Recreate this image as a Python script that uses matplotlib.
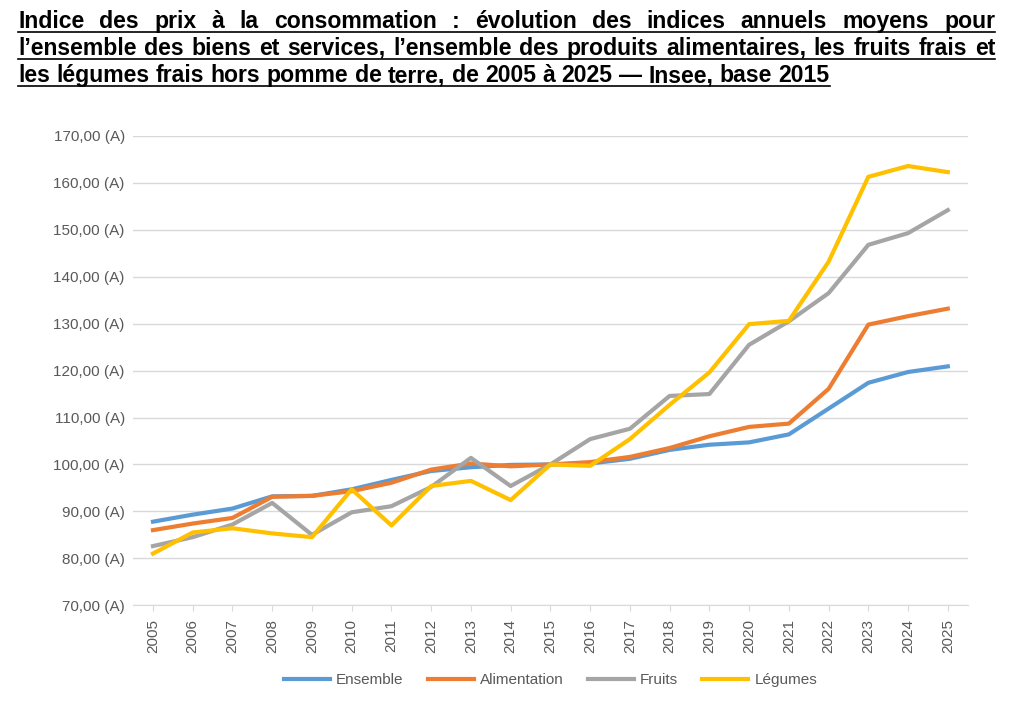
import numpy as np
import matplotlib
matplotlib.use("Agg")
import matplotlib.pyplot as plt
from matplotlib.lines import Line2D

years = list(range(2005, 2026))
ensemble = [87.8, 89.3, 90.6, 93.2, 93.3, 94.7, 96.7, 98.6, 99.4, 99.9, 100.0,
            100.2, 101.2, 103.1, 104.2, 104.7, 106.4, 111.9, 117.4, 119.7, 120.9]
alimentation = [86.0, 87.4, 88.6, 93.1, 93.3, 94.3, 96.1, 98.9, 100.2, 99.6, 100.0,
                100.5, 101.6, 103.5, 106.0, 108.0, 108.7, 116.1, 129.8, 131.6, 133.2]
fruits = [82.6, 84.5, 87.2, 91.8, 85.0, 89.8, 91.1, 95.2, 101.4, 95.4, 100.0,
          105.4, 107.6, 114.6, 115.0, 125.5, 130.5, 136.5, 146.8, 149.3, 154.2]
legumes = [81.0, 85.5, 86.4, 85.3, 84.5, 94.7, 87.0, 95.4, 96.5, 92.4, 100.0,
           99.7, 105.4, 112.7, 119.6, 129.9, 130.6, 143.2, 161.3, 163.6, 162.3]

title_lines = [
    "Indice des prix à la consommation : évolution des indices annuels moyens pour",
    "l\u2019ensemble des biens et services, l\u2019ensemble des produits alimentaires, les fruits frais et",
    "les légumes frais hors pomme de terre, de 2005 à 2025 \u2014 Insee, base 2015",
]

plt.rcParams['font.family'] = ['Liberation Sans', 'DejaVu Sans']

fig = plt.figure(figsize=(10.24, 7.12), dpi=100)
ax = fig.add_axes([0.130, 0.150, 0.815, 0.659])

ax.plot(years, ensemble, color='#5B9BD5', lw=3, label='Ensemble')
ax.plot(years, alimentation, color='#ED7D31', lw=3, label='Alimentation')
ax.plot(years, fruits, color='#A5A5A5', lw=3, label='Fruits')
ax.plot(years, legumes, color='#FFC000', lw=3, label='Légumes')

ax.set_xlim(2004.5, 2025.5)
ax.set_ylim(70, 170)
ax.set_yticks(range(70, 171, 10))
ax.set_yticklabels([f"{v},00 (A)" for v in range(70, 171, 10)])
ax.set_xticks(years)
ax.set_xticklabels([str(y) for y in years], rotation=90)
ax.grid(axis='y', color='#D9D9D9', lw=1)
ax.set_axisbelow(True)
for s in ['top', 'right', 'left']:
    ax.spines[s].set_visible(False)
ax.spines['bottom'].set_color('#D9D9D9')
ax.tick_params(axis='both', length=0, colors='#595959', labelsize=11, pad=6)
ax.tick_params(axis='x', length=4, color='#D9D9D9')

ax.legend(loc='upper center', bbox_to_anchor=(0.5, -0.115), ncol=4, frameon=False,
          fontsize=11, labelcolor='#595959', handlelength=3, handletextpad=0.4,
          columnspacing=1.6)

# title, justified, bold, underlined
fig.canvas.draw()
renderer = fig.canvas.get_renderer()
left, right = 18 / 1024, 995 / 1024
fs = 16.6
for i, line in enumerate(title_lines):
    y = 1 - (28 + i * 27) / 712
    words = line.split(' ')
    widths = []
    for w in words:
        t = fig.text(0, 0, w, fontsize=fs, fontweight='bold')
        bb = t.get_window_extent(renderer)
        widths.append(bb.width / 1024)
        t.remove()
    if i < len(title_lines) - 1:
        gap = (right - left - sum(widths)) / (len(words) - 1)
    else:
        sp = fig.text(0, 0, 'a a', fontsize=fs, fontweight='bold')
        sa = fig.text(0, 0, 'aa', fontsize=fs, fontweight='bold')
        gap = (sp.get_window_extent(renderer).width - sa.get_window_extent(renderer).width) / 1024
        sp.remove(); sa.remove()
    x = left
    for w, wd in zip(words, widths):
        fig.text(x, y, w, fontsize=fs, fontweight='bold', va='baseline', ha='left')
        x += wd + gap
    end = x - gap
    fig.add_artist(Line2D([left, end], [y - 4 / 712, y - 4 / 712], color='black', lw=1.2))

fig.savefig('out.png', dpi=100)
